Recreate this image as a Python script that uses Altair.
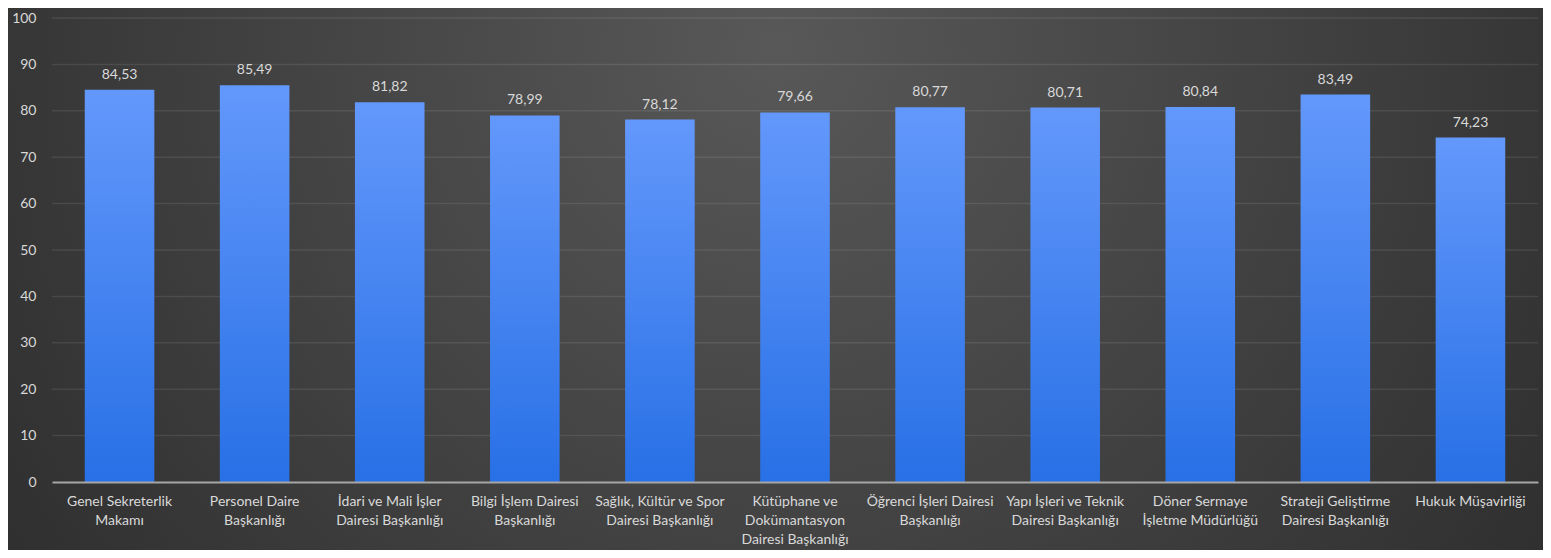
import altair as alt
import pandas as pd

categories = [
    "Genel Sekreterlik\nMakamı",
    "Personel Daire\nBaşkanlığı",
    "İdari ve Mali İşler\nDairesi Başkanlığı",
    "Bilgi İşlem Dairesi\nBaşkanlığı",
    "Sağlık, Kültür ve Spor\nDairesi Başkanlığı",
    "Kütüphane ve\nDokümantasyon\nDairesi Başkanlığı",
    "Öğrenci İşleri Dairesi\nBaşkanlığı",
    "Yapı İşleri ve Teknik\nDairesi Başkanlığı",
    "Döner Sermaye\nİşletme Müdürlüğü",
    "Strateji Geliştirme\nDairesi Başkanlığı",
    "Hukuk Müşavirliği",
]
values = [84.53, 85.49, 81.82, 78.99, 78.12, 79.66, 80.77, 80.71, 80.84, 83.49, 74.23]
y_ticks = [0, 10, 20, 30, 40, 50, 60, 70, 80, 90, 100]

W, H = 1486, 464
PL, PT, PR, PB = 44, 10, 5, 68

df = pd.DataFrame({"kategori": categories, "deger": values})
grid_df = pd.DataFrame({"t": y_ticks[1:]})

FONT = "Lato"
TXT = "#d9d9d9"
YSCALE = alt.Scale(domain=[0, 100], nice=False)
YAXIS = alt.Axis(
    values=y_ticks, labelFont=FONT, labelFontSize=14, labelColor=TXT,
    labelPadding=16, ticks=False, domain=False, grid=False, zindex=1,
)

bg = alt.Chart(alt.Data(values=[{"a": 1}])).mark_rect(
    fill=alt.Gradient(
        gradient="radial",
        stops=[alt.GradientStop(color="#585858", offset=0),
               alt.GradientStop(color="#3c3c3c", offset=0.55),
               alt.GradientStop(color="#252525", offset=1)],
        x1=0.5, y1=0.35, r1=0, x2=0.5, y2=0.35, r2=0.75,
    ),
    clip=False,
).encode(
    x=alt.value(-PL), x2=alt.value(W + PR),
    y=alt.value(-PT), y2=alt.value(H + PB),
)

grid = alt.Chart(grid_df).mark_rule(
    color="#ffffff", opacity=0.09, strokeWidth=1.5,
).encode(
    y=alt.Y("t:Q", scale=YSCALE, axis=YAXIS, title=None),
    x=alt.value(0), x2=alt.value(W),
)

xenc = alt.X(
    "kategori:N", sort=categories, title=None,
    scale=alt.Scale(paddingInner=0.485, paddingOuter=0.2425),
    axis=alt.Axis(
        labelAngle=0, labelExpr="split(datum.label, '\\n')",
        labelFont=FONT, labelFontSize=14, labelColor=TXT,
        labelLineHeight=19, labelPadding=12, labelBaseline="top",
        ticks=False, domain=True, domainColor="#a6a6a6", domainWidth=2,
        grid=False, labelLimit=200, zindex=1,
    ),
)

bars = alt.Chart(df).mark_bar(
    fill=alt.Gradient(
        gradient="linear",
        stops=[alt.GradientStop(color="#6398fb", offset=0),
               alt.GradientStop(color="#2870e6", offset=1)],
        x1=0, x2=0, y1=0, y2=1,
    ),
    cornerRadius=0,
).encode(
    x=xenc,
    y=alt.Y("deger:Q", title=None, scale=YSCALE, axis=YAXIS),
)

labels = alt.Chart(df).transform_calculate(
    lbl="replace(format(datum.deger, '.2f'), '.', ',')"
).mark_text(
    baseline="bottom", dy=-8, font=FONT, fontSize=14, color=TXT,
).encode(
    x=alt.X("kategori:N", sort=categories),
    y=alt.Y("deger:Q", scale=YSCALE),
    text="lbl:N",
)

chart = alt.layer(bg, grid, bars, labels).properties(
    width=W, height=H,
    padding={"left": PL, "top": PT, "right": PR, "bottom": PB},
    autosize=alt.AutoSizeParams(type="none"),
    background="#2a2a2a",
).configure_view(stroke=None)

chart.save("out.html", embed_options={"renderer": "svg", "actions": False})
